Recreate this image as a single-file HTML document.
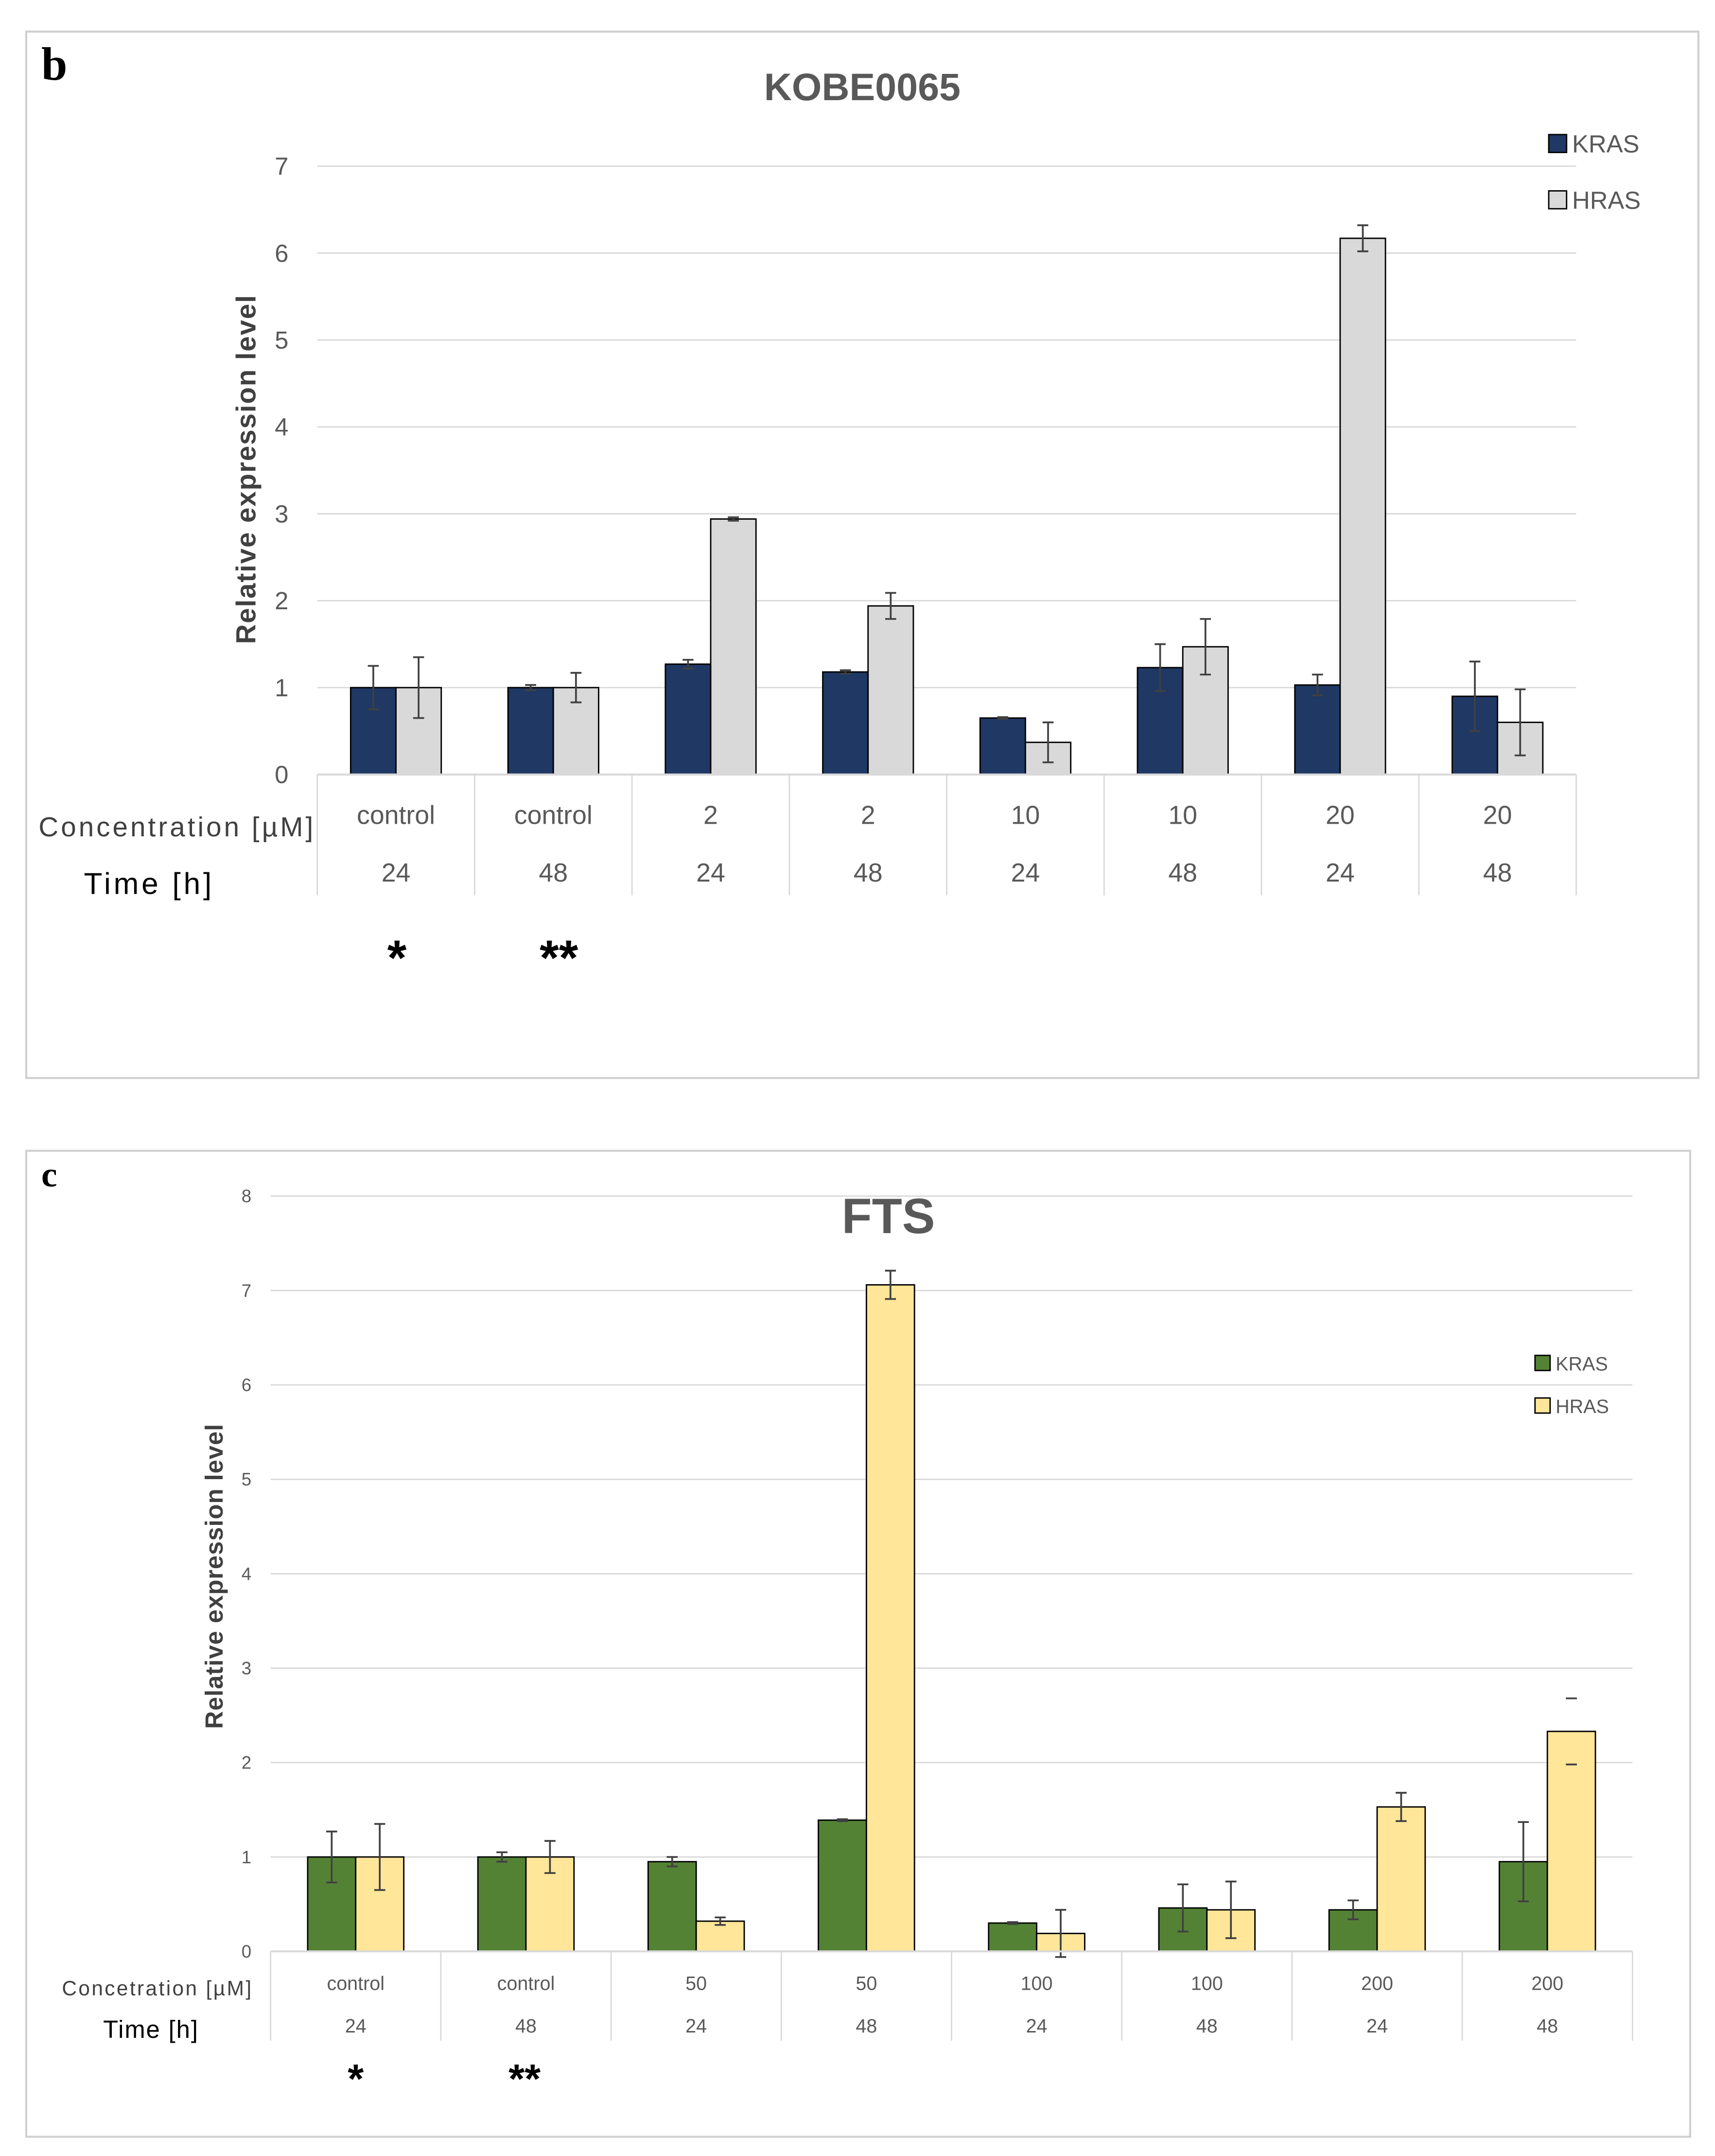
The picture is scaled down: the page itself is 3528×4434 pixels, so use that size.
<!DOCTYPE html>
<html><head><meta charset="utf-8"><style>html,body{margin:0;padding:0;background:#fff}svg{display:block}text{font-family:"Liberation Sans",sans-serif}</style></head>
<body>
<svg id="s" width="3528" height="4434" viewBox="0 0 1249 1570" xmlns="http://www.w3.org/2000/svg">
<rect x="19" y="23" width="1218" height="762" fill="#fff" stroke="#d0d0d0" stroke-width="1.5"/>
<rect x="19" y="838" width="1212" height="718" fill="#fff" stroke="#d0d0d0" stroke-width="1.5"/>
<text x="30" y="58" font-size="34" font-weight="bold" style="font-family:'Liberation Serif',serif">b</text>
<text x="30" y="864" font-size="26" font-weight="bold" style="font-family:'Liberation Serif',serif">c</text>
<text x="628" y="73" font-size="28" font-weight="bold" fill="#595959" text-anchor="middle">KOBE0065</text>
<text x="647" y="898" font-size="36" font-weight="bold" fill="#595959" text-anchor="middle">FTS</text>
<text transform="translate(186,342) rotate(-90)" font-size="20" font-weight="bold" fill="#404040" text-anchor="middle" textLength="254">Relative expression level</text>
<text transform="translate(162,1148) rotate(-90)" font-size="18" font-weight="bold" fill="#404040" text-anchor="middle" textLength="222">Relative expression level</text>
<text x="28" y="609" font-size="20" fill="#404040" textLength="200">Concentration [µM]</text>
<text x="61" y="651" font-size="22" fill="#000" textLength="93">Time [h]</text>
<text x="45" y="1453" font-size="15" fill="#404040" textLength="138">Concetration [µM]</text>
<text x="75" y="1484" font-size="18" fill="#000" textLength="69">Time [h]</text>
<text x="289" y="710" font-size="36" font-weight="bold" text-anchor="middle">*</text>
<text x="407" y="710" font-size="36" font-weight="bold" text-anchor="middle">**</text>
<text x="259" y="1524" font-size="30" font-weight="bold" text-anchor="middle">*</text>
<text x="382" y="1524" font-size="30" font-weight="bold" text-anchor="middle">**</text>
</svg>
<script>
const bConc=["control","control","2","2","10","10","20","20"];
const bTime=["24","48","24","48","24","48","24","48"];
const bKras=[1.0,1.0,1.27,1.18,0.65,1.23,1.03,0.9];
const bKrasErr=[0.25,0.03,0.05,0.02,0.01,0.27,0.12,0.4];
const bHras=[1.0,1.0,2.94,1.94,0.37,1.47,6.17,0.6];
const bHrasErr=[0.35,0.17,0.02,0.15,0.23,0.32,0.15,0.38];
const bTicks=[0,1,2,3,4,5,6,7];
const cConc=["control","control","50","50","100","100","200","200"];
const cTime=["24","48","24","48","24","48","24","48"];
const cKras=[1.0,1.0,0.95,1.39,0.3,0.46,0.44,0.95];
const cKrasErr=[0.27,0.05,0.05,0.01,0.01,0.25,0.1,0.42];
const cHras=[1.0,1.0,0.32,7.06,0.19,0.44,1.53,2.33];
const cHrasErr=[0.35,0.17,0.04,0.15,0.25,0.3,0.15,0.35];
const cTicks=[0,1,2,3,4,5,6,7,8];
const NS="http://www.w3.org/2000/svg";
const svg=document.getElementById('s');
function mk(tag,attrs){const e=document.createElementNS(NS,tag);for(const k in attrs)e.setAttribute(k,attrs[k]);svg.appendChild(e);return e;}
function chart(o){
  const y=v=>o.y0-(v-o.tmin)/(o.tmax-o.tmin)*(o.y0-o.y1);
  const cw=(o.x1-o.x0)/o.conc.length;
  o.ticks.forEach(t=>{
    const l=mk('line',{x1:o.x0,x2:o.x1,y1:y(t),y2:y(t),stroke:'#d9d9d9','stroke-width':1});
    
    
    const tx=mk('text',{x:o.tx,y:y(t)+o.tfs*0.35,'font-size':o.tfs,fill:'#595959','text-anchor':'end'});
    tx.textContent=t;
    
    
  });
  for(let i=0;i<=o.conc.length;i++){
    const l=mk('line',{x1:o.x0+i*cw,x2:o.x0+i*cw,y1:o.y0,y2:o.tableB,stroke:'#d9d9d9','stroke-width':1});
    
    
  }
  o.conc.forEach((c,i)=>{
    const cx=o.x0+(i+0.5)*cw;
    [[o.k,o.ke,o.kc,-1,'kras'],[o.h,o.he,o.hc,0,'hras']].forEach(([vals,errs,col,off,nm])=>{
      const bx=cx+off*o.bw, v=vals[i];
      const r=mk('rect',{x:bx,y:y(v),width:o.bw,height:o.y0-y(v),fill:col,stroke:'#000','stroke-width':1});
      
      
      const ex=bx+o.bw/2, e=errs[i];
      const capsOnly=(o.capsOnlyLast && nm==='hras' && i===o.conc.length-1);
      const d=(capsOnly?'':`M${ex},${y(v+e)}V${y(v-e)}`)+`M${ex-4},${y(v+e)}h8M${ex-4},${y(v-e)}h8`;
      const el=mk('path',{d:d,stroke:'#404040','stroke-width':1.3,fill:'none'});
      
      
    });
    const t1=mk('text',{x:cx,y:o.r1,'font-size':o.lfs,fill:'#595959','text-anchor':'middle'});
    t1.textContent=c;
    
    
    const t2=mk('text',{x:cx,y:o.r2,'font-size':o.lfs,fill:'#595959','text-anchor':'middle'});
    t2.textContent=o.time[i];
    
    
  });
  const ax=mk('line',{x1:o.x0,x2:o.x1,y1:o.y0,y2:o.y0,stroke:'#d9d9d9','stroke-width':1.5});
  
  
  [[o.kc,'KRAS',o.ly1],[o.hc,'HRAS',o.ly2]].forEach(([col,lab,ly])=>{
    const r=mk('rect',{x:o.lx,y:ly-o.ls,width:o.ls,height:o.ls,fill:col,stroke:'#000','stroke-width':1});
    
    
    const t=mk('text',{x:o.lx+o.ls+4,y:ly,'font-size':o.lfs2,fill:'#595959'});
    t.textContent=lab;
    
    
  });
}
chart({conc:bConc,time:bTime,k:bKras,ke:bKrasErr,h:bHras,he:bHrasErr,ticks:bTicks,tmin:0,tmax:7,
  x0:231,x1:1148,y0:564,y1:121,bw:33,tx:210,tfs:18,tableB:652,r1:600,r2:642,lfs:19,
  kc:'#1f3864',hc:'#d9d9d9',lx:1128,ly1:111,ly2:152,ls:13,lfs2:18,capsOnlyLast:false});
chart({conc:cConc,time:cTime,k:cKras,ke:cKrasErr,h:cHras,he:cHrasErr,ticks:cTicks,tmin:0,tmax:8,
  x0:197,x1:1189,y0:1421,y1:871,bw:35,tx:183,tfs:13,tableB:1486,r1:1449,r2:1480,lfs:14,
  kc:'#548235',hc:'#ffe699',lx:1118,ly1:998,ly2:1029,ls:11,lfs2:14,capsOnlyLast:true});
</script>
</body></html>
